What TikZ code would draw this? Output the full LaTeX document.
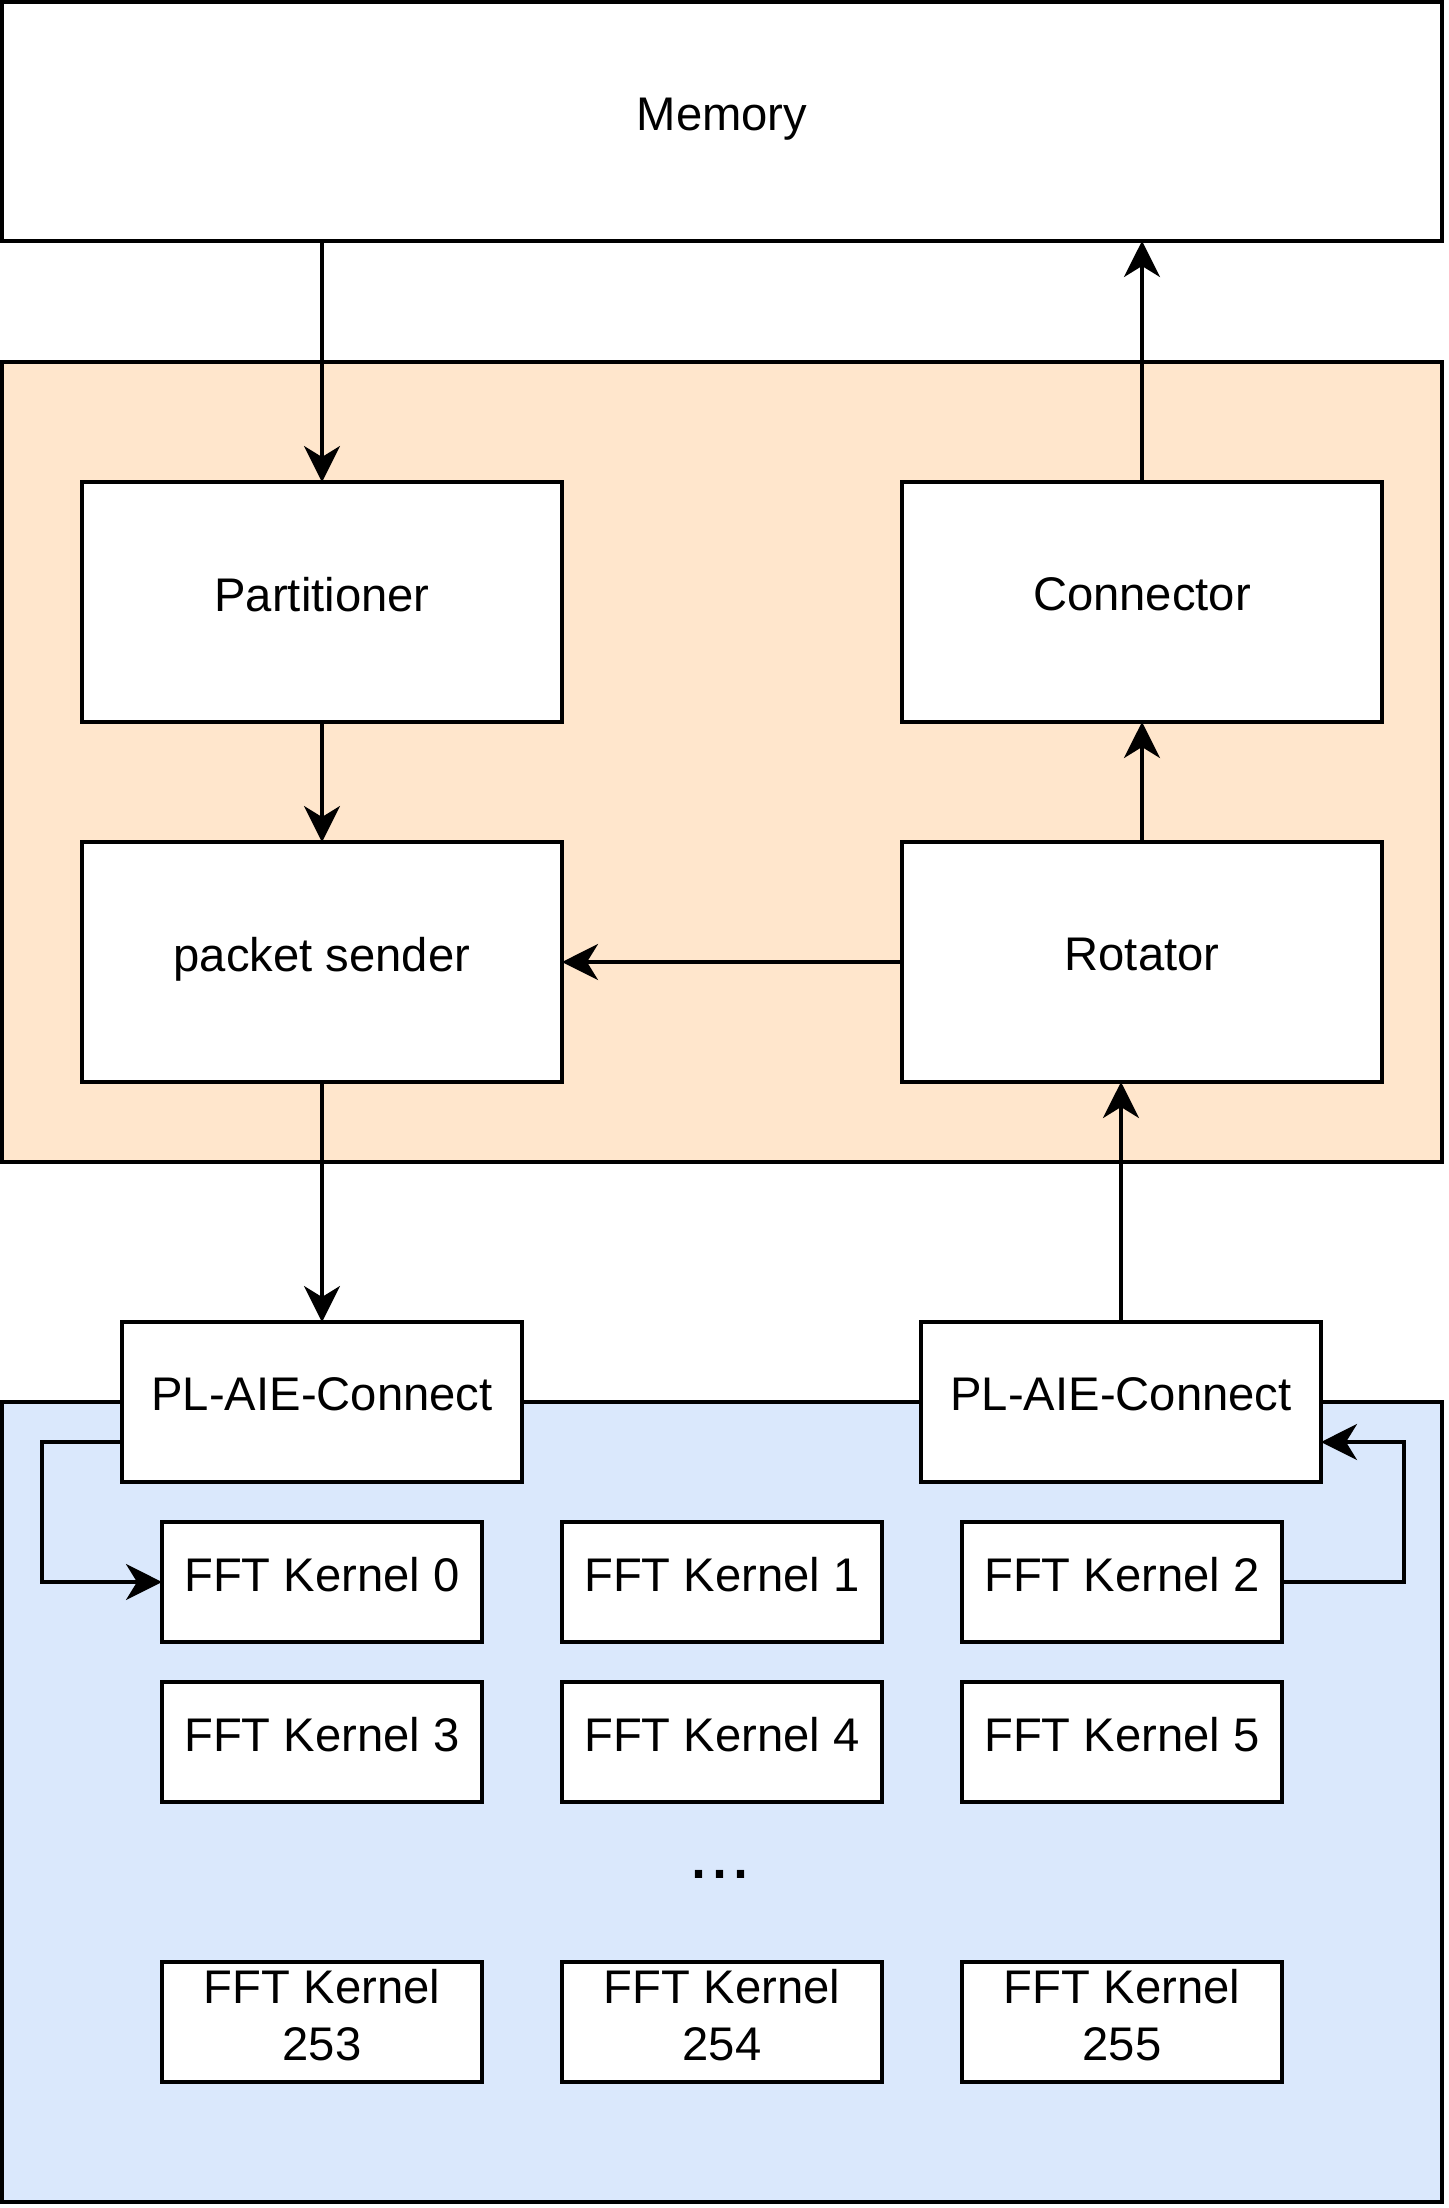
\documentclass[tikz,border=0pt]{standalone}
\usepackage{fontspec}
\setmainfont{Liberation Sans}
\usetikzlibrary{arrows.meta}
\definecolor{orangefill}{HTML}{FFE6CC}
\definecolor{bluefill}{HTML}{DAE8FC}
\newcommand\dstrut{\rule[-0.32em]{0pt}{0.72em}}
\begin{document}
\begin{tikzpicture}[x=0.5pt,y=-0.5pt,
  box/.style={draw=black, line width=2pt, fill=white, inner sep=0pt, outer sep=0pt,
    align=center, font=\fontsize{23.6}{28.5}\selectfont, execute at end node=\dstrut},
  area/.style={draw=black, line width=2pt, inner sep=0pt, outer sep=0pt},
  arr/.style={line width=1.8pt, -{Stealth[length=18pt,width=18pt,inset=5.5pt]}}]
\useasboundingbox (0,0) rectangle (1448,2208);
% containers
\node[area, fill=orangefill, minimum width=720pt, minimum height=400pt] (orange) at (722,762) {};
\node[area, fill=bluefill, minimum width=720pt, minimum height=400pt] (blue) at (722,1802) {};
\node[box, minimum width=720pt, minimum height=119.5pt] (mem) at (722,121.5) {Memory};
% FPGA blocks
\node[box, minimum width=240pt, minimum height=120pt] (part) at (322,602) {Partitioner};
\node[box, minimum width=240pt, minimum height=120pt] (conn) at (1142,602) {Connector};
\node[box, minimum width=240pt, minimum height=120pt] (ps) at (322,962) {packet sender};
\node[box, minimum width=240pt, minimum height=120pt] (rot) at (1142,962) {Rotator};
% PL-AIE connect
\node[box, minimum width=200pt, minimum height=80pt] (plL) at (322,1402) {PL-AIE-Connect};
\node[box, minimum width=200pt, minimum height=80pt] (plR) at (1121,1402) {PL-AIE-Connect};
% kernels
\tikzset{kern/.style={box, minimum width=160pt, minimum height=60pt}}
\node[kern] (k0) at (322,1582) {FFT Kernel 0};
\node[kern] (k1) at (722,1582) {FFT Kernel 1};
\node[kern] (k2) at (1122,1582) {FFT Kernel 2};
\node[kern] (k3) at (322,1742) {FFT Kernel 3};
\node[kern] (k4) at (722,1742) {FFT Kernel 4};
\node[kern] (k5) at (1122,1742) {FFT Kernel 5};
\node[kern] (k253) at (322,2022) {FFT Kernel\\253};
\node[kern] (k254) at (722,2022) {FFT Kernel\\254};
\node[kern] (k255) at (1122,2022) {FFT Kernel\\255};
\node[font=\fontsize{37.8}{40}\selectfont, anchor=base, inner sep=0pt] (dots) at (720,1878) {...};
% connectors
\draw[arr] (part.north |- mem.south) -- (part.north);
\draw[arr] (conn.north) -- (conn.north |- mem.south);
\draw[arr] (part.south) -- (ps.north);
\draw[arr] (rot.north) -- (conn.south);
\draw[arr] (rot.west) -- (ps.east);
\draw[arr] (ps.south) -- (plL.north);
\draw[arr] (plR.north) -- (plR.north |- rot.south);
\draw[arr] ([yshift=20pt]plL.south west) -- ++(-40pt,0) |- (k0.west);
\draw[arr] (k2.east) -- ++(61pt,0) |- ([yshift=20pt]plR.south east);
\end{tikzpicture}
\end{document}
